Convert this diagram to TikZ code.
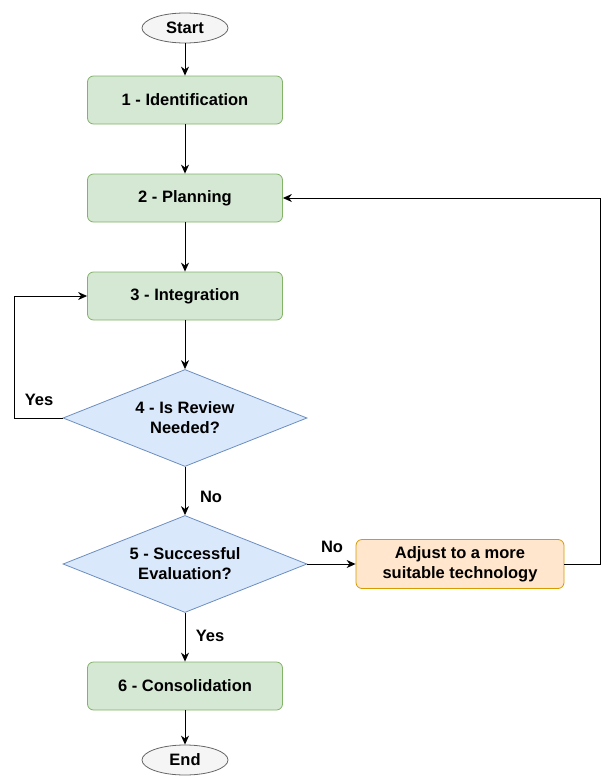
\documentclass[tikz,border=0pt]{standalone}
\usepackage{fontspec}
\setmainfont{Liberation Sans}
\usetikzlibrary{shapes.geometric,arrows.meta}
\definecolor{gfill}{HTML}{D5E8D4}\definecolor{gline}{HTML}{82B366}
\definecolor{bfill}{HTML}{DAE8FC}\definecolor{bline}{HTML}{6C8EBF}
\definecolor{ofill}{HTML}{FFE6CC}\definecolor{oline}{HTML}{D79B00}
\definecolor{efill}{HTML}{F5F5F5}\definecolor{eline}{HTML}{666666}
\begin{document}
\begin{tikzpicture}[x=1pt,y=-1pt,
  every node/.style={font=\bfseries\fontsize{16.5}{20}\selectfont, align=center},
  term/.style={ellipse, draw=eline, fill=efill, line width=0.8pt, minimum width=86pt, minimum height=30pt, inner sep=0pt},
  stepbox/.style={rectangle, rounded corners=6pt, draw=gline, fill=gfill, line width=0.8pt, minimum width=195pt, minimum height=48pt, inner sep=0pt},
  adjbox/.style={rectangle, rounded corners=6pt, draw=oline, fill=ofill, line width=0.8pt, minimum width=208pt, minimum height=49pt, inner sep=0pt},
  decision/.style={diamond, shape aspect=2.5, draw=bline, fill=bfill, line width=0.8pt, minimum width=244pt, minimum height=97pt, inner sep=0pt},
  conn/.style={draw=black, line width=0.9pt, -{Stealth[length=9pt,width=8pt]}},
  lbl/.style={inner sep=0pt}
]
\useasboundingbox (0,0) rectangle (602,776);
\node[term] (start) at (185,28) {Start};
\node[stepbox] (s1) at (185,100) {1 - Identification};
\node[stepbox] (s2) at (185,198) {2 - Planning};
\node[stepbox] (s3) at (185,296) {3 - Integration};
\node[decision] (d4) at (185,418) {4 - Is Review\\Needed?};
\node[decision] (d5) at (185,564) {5 - Successful\\Evaluation?};
\node[adjbox] (adj) at (460,564) {Adjust to a more\\suitable technology};
\node[stepbox] (s6) at (185,686) {6 - Consolidation};
\node[term] (end) at (185,760) {End};
\coordinate (c1) at (14,418);
\coordinate (c2) at (14,296);
\coordinate (c3) at (600,564);
\coordinate (c4) at (600,198);
\draw[conn] (start) -- (s1);
\draw[conn] (s1) -- (s2);
\draw[conn] (s2) -- (s3);
\draw[conn] (s3) -- (d4);
\draw[conn] (d4) -- (d5);
\draw[conn] (d5) -- (s6);
\draw[conn] (s6) -- (end);
\draw[conn] (d4.west) -- (c1) -- (c2) -- (s3.west);
\draw[conn] (d5.east) -- (adj.west);
\draw[conn] (adj.east) -- (c3) -- (c4) -- (s2.east);
\node[lbl] (y1) at (39,400) {Yes};
\node[lbl] (n1) at (211,497) {No};
\node[lbl] (n2) at (332,547) {No};
\node[lbl] (y2) at (210,636) {Yes};
\end{tikzpicture}
\end{document}
